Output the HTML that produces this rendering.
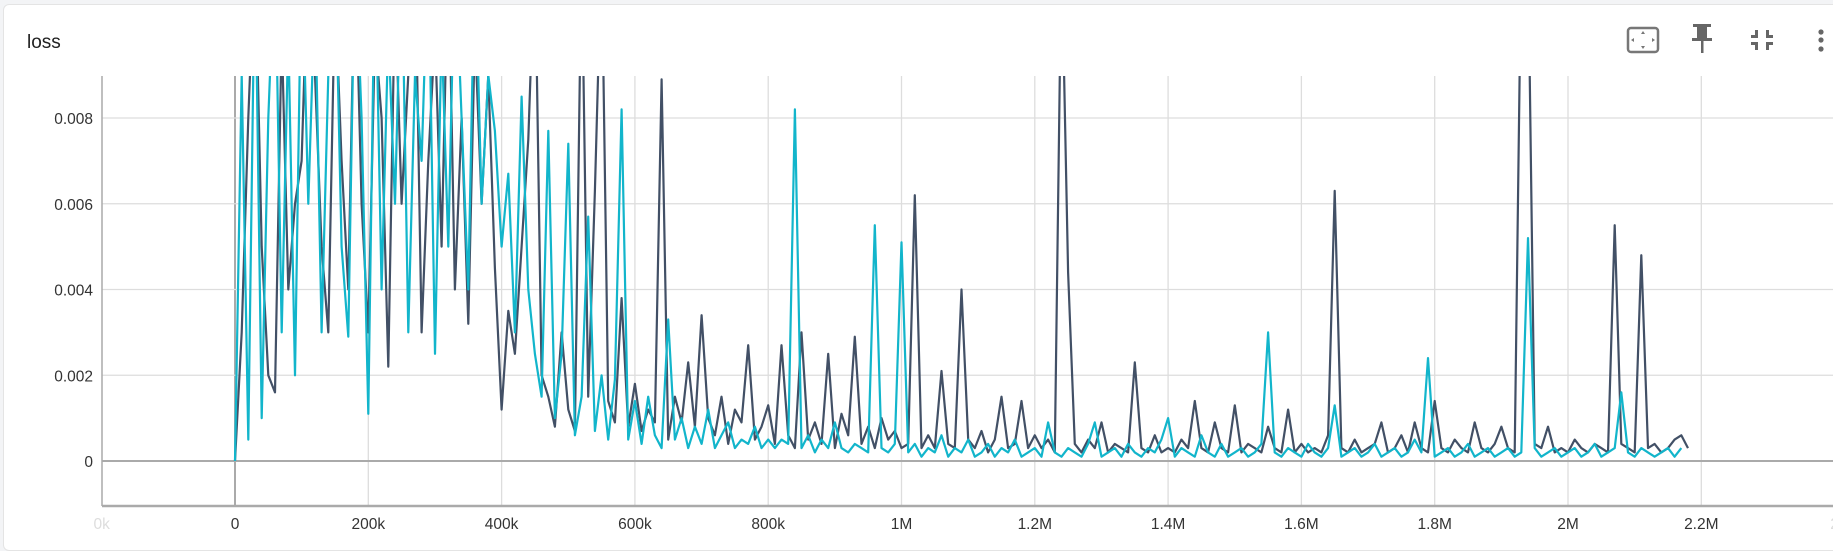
<!DOCTYPE html>
<html><head><meta charset="utf-8"><style>
html,body{margin:0;padding:0;width:1833px;height:541px;overflow:hidden;background:#f3f4f6;font-family:"Liberation Sans",sans-serif}
#card{position:absolute;left:3px;top:4px;width:1840px;height:545px;background:#fff;border:1px solid #e4e4e4;border-radius:6px}
</style></head><body>
<div id="card"></div>
<svg id="chart" width="1833" height="541" style="position:absolute;left:0;top:0">
<text x="27" y="48" font-size="19" fill="#212121">loss</text>
<g fill="none" stroke="#777" stroke-width="2.5">
<rect x="1628" y="28" width="30" height="24" rx="3"/>
<path d="M1643 31l-2 3h4z M1643 49l-2 -3h4z M1631 40l3 -2v4z M1655 40l-3 -2v4z" fill="#777" stroke="none"/>
</g>
<g fill="#666">
<rect x="1693" y="24" width="18" height="3"/><rect x="1697" y="26" width="10" height="13"/><rect x="1692" y="38" width="20" height="3"/><rect x="1701" y="40" width="2.5" height="13"/>
</g>
<g fill="#666">
<path d="M1755 30h3v8h-7v-3h4z M1766 30h3v5h4v3h-7z M1751 42h7v8h-3v-5h-4z M1766 42h7v3h-4v5h-3z"/>
</g>
<g fill="#666">
<circle cx="1821" cy="32" r="2.6"/><circle cx="1821" cy="40" r="2.6"/><circle cx="1821" cy="49" r="2.6"/>
</g>
<defs><clipPath id="clip"><rect x="102" y="76" width="1731" height="430"/></clipPath></defs>
<g id="grid"></g><g id="series" clip-path="url(#clip)"></g><g id="axes"></g>
</svg>
<script>
const xTicks=[-200000,0,200000,400000,600000,800000,1000000,1200000,1400000,1600000,1800000,2000000,2200000,2400000];
const xTickLabels=["0k","0","200k","400k","600k","800k","1M","1.2M","1.4M","1.6M","1.8M","2M","2.2M","2"];
const yTicks=[0,0.002,0.004,0.006,0.008];
const yTickLabels=["0","0.002","0.004","0.006","0.008"];
const stepSize=10000;
const navyLoss=[0,3,8,12,5,2,1.6,10,4,6,7,12,9,5,3,11,7,4,12,6,3,10,8,2.2,11,6,9,12,3,7,10,5,12,4,8,3.2,10,6,9,4.5,1.2,3.5,2.5,5,7.5,12,
2,1.5,0.8,3,1.2,0.7,12,1.5,6.3,12,1.4,0.9,3.8,0.8,1.8,
0.7,1.2,0.9,8.9,0.5,1.5,0.9,2.3,0.8,3.4,1.0,0.6,1.5,0.4,1.2,0.9,2.7,0.5,0.8,1.3,
0.4,2.7,0.6,0.3,3.0,0.5,0.9,0.4,2.5,0.3,1.1,0.6,2.9,0.4,0.8,0.3,1.0,0.5,0.7,0.3,
0.4,6.2,0.3,0.6,0.3,2.1,0.4,0.3,4.0,0.5,0.3,0.7,0.2,0.5,1.5,0.3,0.4,1.4,0.3,0.6,
0.3,0.5,0.2,12,4.4,0.4,0.2,0.5,0.3,0.9,0.2,0.4,0.3,0.2,2.3,0.3,0.2,0.6,0.2,0.3,
0.2,0.5,0.3,1.4,0.3,0.2,0.9,0.3,0.2,1.3,0.2,0.4,0.3,0.2,0.8,0.3,0.2,1.2,0.2,0.4,
0.2,0.3,0.2,0.6,6.3,0.3,0.2,0.5,0.2,0.3,0.4,0.9,0.2,0.3,0.6,0.2,0.9,0.3,0.2,1.4,
0.3,0.2,0.5,0.3,0.2,0.9,0.3,0.2,0.4,0.8,0.3,0.2,12,12,0.4,0.3,0.8,0.2,0.3,0.2,
0.5,0.3,0.2,0.4,0.3,0.2,5.5,0.4,0.3,0.2,4.8,0.3,0.4,0.2,0.3,0.5,0.6,0.3];
const cyanLoss=[0,9,0.5,12,1,8,12,3,10,2,12,6,11,3,9,12,5,2.9,12,8,1.1,12,4,10,6,12,3,9,7,12,2.5,10,5,12,8,4,12,6,9,7.7,5,6.7,3,8.5,4,2.5,
1.5,7.7,1,2.5,7.4,0.6,1.5,5.7,0.7,2,0.5,1.9,8.2,0.5,1.4,
0.4,1.5,0.6,0.3,3.3,0.5,1.0,0.3,0.8,0.4,1.2,0.3,0.6,0.9,0.3,0.5,0.4,0.8,0.3,0.5,
0.3,0.5,0.4,8.2,0.3,0.6,0.2,0.5,0.3,0.9,0.3,0.2,0.4,0.3,0.2,5.5,0.3,0.2,0.4,5.1,
0.2,0.4,0.1,0.3,0.2,0.6,0.1,0.3,0.2,0.5,0.1,0.2,0.4,0.1,0.3,0.2,0.5,0.1,0.2,0.3,
0.1,0.9,0.2,0.1,0.3,0.2,0.1,0.4,0.9,0.1,0.2,0.3,0.1,0.4,0.2,0.1,0.3,0.2,0.5,1.0,
0.1,0.3,0.2,0.1,0.6,0.2,0.1,0.4,0.1,0.2,0.3,0.1,0.2,0.4,3.0,0.2,0.1,0.3,0.2,0.1,
0.4,0.2,0.1,0.3,1.3,0.1,0.2,0.3,0.1,0.2,0.4,0.1,0.2,0.3,0.1,0.2,0.5,0.2,2.4,0.1,
0.2,0.3,0.1,0.2,0.4,0.1,0.2,0.3,0.1,0.2,0.3,0.1,0.2,5.2,0.3,0.1,0.2,0.3,0.1,0.2,
0.3,0.1,0.2,0.4,0.1,0.2,0.3,1.6,0.2,0.1,0.3,0.2,0.1,0.2,0.3,0.1,0.3];
const NS="http://www.w3.org/2000/svg";
const X=v=>235+(v/200000)*133.3;
const Y=v=>461-(v/0.002)*85.75;
function mk(tag,attrs,parent){const e=document.createElementNS(NS,tag);for(const k in attrs)e.setAttribute(k,attrs[k]);parent.appendChild(e);return e;}
const grid=document.getElementById('grid'),axes=document.getElementById('axes'),series=document.getElementById('series');
xTicks.forEach((t,i)=>{
  if(t>=0&&t<=2200000){const l=mk('line',{x1:X(t),x2:X(t),y1:76,y2:506,stroke:t===0?'#aaa':'#ddd','stroke-width':t===0?2:1.3},grid);
  
  }
  const tx=mk('text',{x:X(t),y:529,'text-anchor':'middle','font-size':15.5,fill:(i===0||i===xTicks.length-1)?'#ddd':'#333'},axes);
  tx.textContent=xTickLabels[i];
  
  
});
yTicks.forEach((t,i)=>{
  const l=mk('line',{x1:102,x2:1833,y1:Y(t),y2:Y(t),stroke:t===0?'#aaa':'#ddd','stroke-width':t===0?2:1.3},grid);
  
  
  const tx=mk('text',{x:93,y:Y(t)+6,'text-anchor':'end','font-size':15.5,fill:'#333'},axes);
  tx.textContent=yTickLabels[i];
  
  
});
const la=mk('line',{x1:102,x2:102,y1:76,y2:506,stroke:'#aaa','stroke-width':1.5},axes);


const lb=mk('line',{x1:102,x2:1833,y1:506,y2:506,stroke:'#aaa','stroke-width':2.5},axes);


function draw(arr,color,name){
  const pts=arr.map((v,i)=>X(i*stepSize).toFixed(1)+','+Y(v/1000).toFixed(1)).join(' ');
  const p=mk('polyline',{points:pts,fill:'none',stroke:color,'stroke-width':2.2,'stroke-linejoin':'round'},series);
  
  
}
draw(navyLoss,'#425066','series-run-navy');
draw(cyanLoss,'#12b5cb','series-run-cyan');
</script>
</body></html>
